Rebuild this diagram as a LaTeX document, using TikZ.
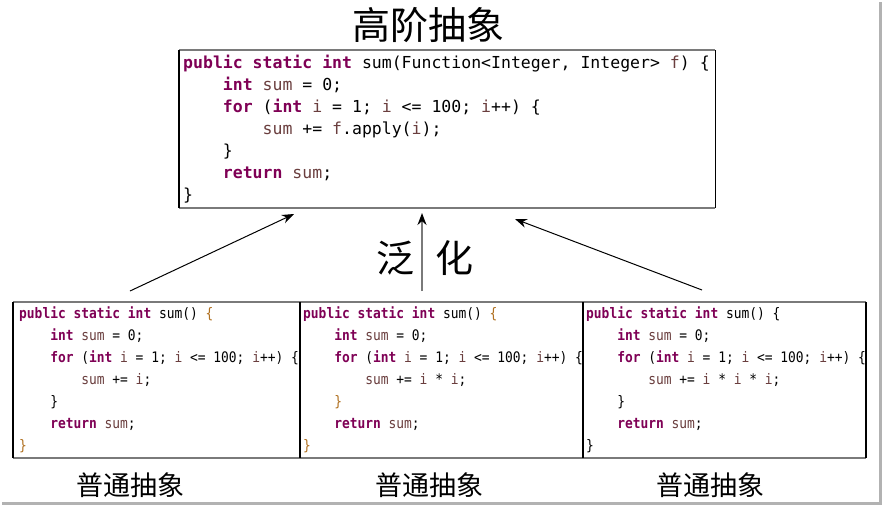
\documentclass[tikz,border=0pt]{standalone}
\usepackage{fontspec}
\usetikzlibrary{arrows.meta}
\newfontfamily\cjk{Noto Sans CJK SC}
\newfontfamily\codefont{DejaVu Sans Mono}
\newfontfamily\narrowcode[FakeStretch=0.89]{DejaVu Sans Mono}
\definecolor{kwc}{HTML}{7F0055}
\definecolor{varc}{HTML}{6A3E3E}
\definecolor{brc}{HTML}{B07020}
\definecolor{edgegray}{HTML}{7A7A7A}
\newcommand\jkw[1]{{\bfseries\color{kwc}#1}}
\newcommand\jvar[1]{{\color{varc}#1}}
\newcommand\jbr[1]{{\color{brc}#1}}
\newcommand\jsp{\hphantom{0}}
\newcommand\indA{\hphantom{0000}}
\newcommand\indB{\hphantom{00000000}}
\tikzset{
  codebox/.style={draw=none, anchor=north west, align=left, inner ysep=0pt},
  topcode/.style={codebox, font=\codefont\fontsize{16.5}{22}\selectfont},
  lowcode/.style={codebox, font=\narrowcode\fontsize{14.5}{22}\selectfont},
  sideedge/.style={draw=black, line width=1.3pt},
  capedge/.style={draw=edgegray, line width=2pt},
  conn/.style={-{Stealth[length=12pt,width=9pt]}, line width=1pt},
  genline/.style={-{Stealth[length=12pt,width=9pt,color=black]}, draw=edgegray, line width=1.8pt},
  bigcjk/.style={font=\cjk\fontsize{38}{42}\selectfont, inner sep=0pt},
  smallcjk/.style={font=\cjk\fontsize{27}{30}\selectfont, inner sep=0pt}
}
\begin{document}
\begin{tikzpicture}[x=1pt,y=-1pt]
\useasboundingbox[fill=white] (0,0) rectangle (883,507);
% screenshot shadow
\draw[gray!60, line width=3pt] (880.5,2) -- (880.5,503.5) -- (2,503.5);

% title
\node[bigcjk] (title) at (428,25) {高阶抽象};

% top box
\node[topcode, minimum width=536pt, minimum height=158pt, text width=528pt, inner xsep=4pt] (top) at (179,50) {%
\jkw{public\jsp static\jsp int}\jsp sum(Function<Integer,\jsp Integer>\jsp \jvar{f})\jsp \{\\
\indA\jkw{int}\jsp \jvar{sum}\jsp =\jsp 0;\\
\indA\jkw{for}\jsp (\jkw{int}\jsp \jvar{i}\jsp =\jsp 1;\jsp \jvar{i}\jsp <=\jsp 100;\jsp \jvar{i}++)\jsp \{\\
\indB\jvar{sum}\jsp +=\jsp \jvar{f}.apply(\jvar{i});\\
\indA\}\\
\indA\jkw{return}\jsp \jvar{sum};\\
\}};
\draw[capedge] (top.north west) -- (top.north east) (top.south west) -- (top.south east);
\draw[sideedge] (top.north west) -- (top.south west) (top.north east) -- (top.south east);

% bottom boxes
\node[lowcode, minimum width=287pt, minimum height=156pt, text width=281pt, inner xsep=3pt, xshift=3pt] (b1) at (13,302) {%
\jkw{public\jsp static\jsp int}\jsp sum()\jsp \jbr{\{}\\
\indA\jkw{int}\jsp \jvar{sum}\jsp =\jsp 0;\\
\indA\jkw{for}\jsp (\jkw{int}\jsp \jvar{i}\jsp =\jsp 1;\jsp \jvar{i}\jsp <=\jsp 100;\jsp \jvar{i}++)\jsp \{\\
\indB\jvar{sum}\jsp +=\jsp \jvar{i};\\
\indA\}\\
\indA\jkw{return}\jsp \jvar{sum};\\
\jbr{\}}};
\node[lowcode, minimum width=283pt, minimum height=156pt, text width=277pt, inner xsep=3pt] (b2) at (300,302) {%
\jkw{public\jsp static\jsp int}\jsp sum()\jsp \jbr{\{}\\
\indA\jkw{int}\jsp \jvar{sum}\jsp =\jsp 0;\\
\indA\jkw{for}\jsp (\jkw{int}\jsp \jvar{i}\jsp =\jsp 1;\jsp \jvar{i}\jsp <=\jsp 100;\jsp \jvar{i}++)\jsp \{\\
\indB\jvar{sum}\jsp +=\jsp \jvar{i}\jsp *\jsp \jvar{i};\\
\indA\jbr{\}}\\
\indA\jkw{return}\jsp \jvar{sum};\\
\jbr{\}}};
\node[lowcode, minimum width=283pt, minimum height=156pt, text width=277pt, inner xsep=3pt] (b3) at (583,302) {%
\jkw{public\jsp static\jsp int}\jsp sum()\jsp \{\\
\indA\jkw{int}\jsp \jvar{sum}\jsp =\jsp 0;\\
\indA\jkw{for}\jsp (\jkw{int}\jsp \jvar{i}\jsp =\jsp 1;\jsp \jvar{i}\jsp <=\jsp 100;\jsp \jvar{i}++)\jsp \{\\
\indB\jvar{sum}\jsp +=\jsp \jvar{i}\jsp *\jsp \jvar{i}\jsp *\jsp \jvar{i};\\
\indA\}\\
\indA\jkw{return}\jsp \jvar{sum};\\
\}};
\draw[capedge] (13,302) -- (866,302) (13,458) -- (866,458);
\draw[sideedge] (13,302) -- (13,458) (300,302) -- (300,458) (583,302) -- (583,458) (866,302) -- (866,458);

% labels
\node[smallcjk] (l1) at (130,485) {普通抽象};
\node[smallcjk] (l2) at (429,485) {普通抽象};
\node[smallcjk] (l3) at (710,485) {普通抽象};
\node[bigcjk] (fan) at (395,258) {泛};
\node[bigcjk] (hua) at (454,258) {化};

% connectors
\coordinate (s1) at (130,291);
\coordinate (e1) at (294,214);
\coordinate (s2) at (422,291);
\coordinate (e2) at (422,213);
\coordinate (s3) at (702,290);
\coordinate (e3) at (515,219);
\draw[conn] (s1) -- (e1);
\draw[genline] (s2) -- (e2);
\draw[conn] (s3) -- (e3);
\end{tikzpicture}
\end{document}
